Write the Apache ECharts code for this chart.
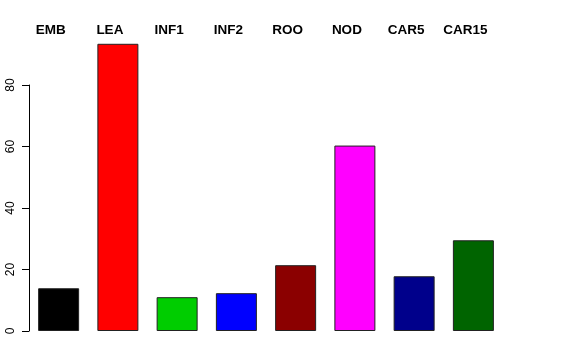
<!DOCTYPE html>
<html><head><meta charset="utf-8">
<script src="https://cdn.jsdelivr.net/npm/echarts@6/dist/echarts.min.js"></script>
<style>html,body{margin:0;padding:0;background:#fff}#c{width:576px;height:360px}</style>
</head><body><div id="c"></div>
<script>
const categories = ['EMB','LEA','INF1','INF2','ROO','NOD','CAR5','CAR15'];
const values = [13.9, 93.4, 11.0, 12.3, 21.4, 60.3, 17.8, 29.5];
const colors = ['#000000','#FF0000','#00CD00','#0000FF','#8B0000','#FF00FF','#00008B','#006400'];
const yTicks = [0, 20, 40, 60, 80];

const chart = echarts.init(document.getElementById('c'), null, {renderer:'canvas'});
chart.setOption({
  animation:false,
  backgroundColor:'#fff',
  grid:{left:29, right:73, top:85, bottom:29},
  xAxis:{type:'category', data:categories, position:'top', boundaryGap:true,
    axisLine:{show:false}, axisTick:{show:false},
    axisLabel:{margin:48, padding:[0,16,0,0], color:'#000', fontWeight:'bold', fontSize:13.5, fontFamily:'Liberation Sans, Arial, sans-serif', interval:0}},
  yAxis:{type:'value', min:yTicks[0], max:yTicks[yTicks.length-1], interval:20,
    splitLine:{show:false},
    axisLine:{show:true, lineStyle:{color:'#000', width:1}},
    axisTick:{show:true, length:7, lineStyle:{color:'#000'}},
    axisLabel:{rotate:90, margin:12, color:'#000', fontSize:12, fontFamily:'Liberation Sans, Arial, sans-serif'}},
  series:[{type:'bar', clip:false, barWidth:41,
    data: values.map((v,i)=>({value:v, itemStyle:{color:colors[i]}})),
    itemStyle:{borderColor:'#222', borderWidth:1}}]
});
</script></body></html>
